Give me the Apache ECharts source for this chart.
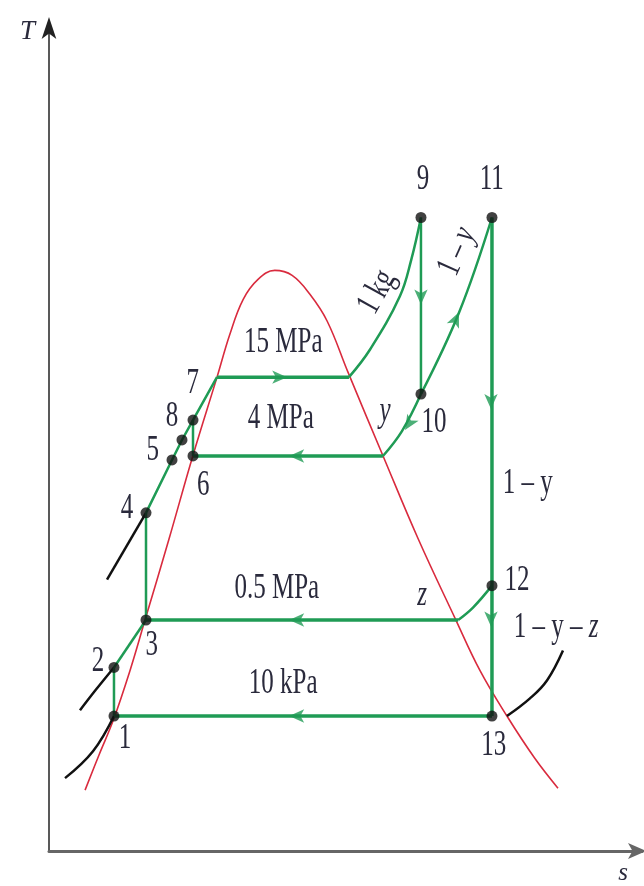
<!DOCTYPE html>
<html>
<head>
<meta charset="utf-8">
<script src="https://cdn.jsdelivr.net/npm/echarts@6/dist/echarts.min.js"></script>
<style>
  html, body { margin: 0; padding: 0; background: #fff; }
  #chart { width: 644px; height: 886px; }
</style>
</head>
<body>
<div id="chart"></div>
<script>
// T-s diagram of a reheat-regenerative Rankine cycle (s and T in arbitrary diagram units)

// Saturation dome
const dome = [
  [0.73, 73.5], [1.01, 115.7], [1.30, 157.8], [1.64, 218.1], [1.94, 278.3],
  [2.43, 377.1], [2.91, 477.1], [3.40, 572.3], [3.66, 624.1], [3.93, 666.3],
  [4.23, 690.4], [4.57, 701.2], [4.92, 695.2], [5.28, 672.3], [5.63, 639.8],
  [6.05, 578.3], [6.76, 477.1], [7.47, 377.1], [8.22, 280.7], [8.72, 218.1],
  [9.27, 162.7], [9.83, 112.0], [10.30, 75.9]
];

// Cycle processes (green)
const pumpI      = [[1.315, 163], [1.315, 221.7]];
const openHeater = [[1.315, 221.7], [1.963, 279]];
const pumpII     = [[1.963, 279], [1.963, 408.4]];
const feedLine   = [[1.963, 408.4], [2.489, 472.3], [2.691, 496.4], [2.914, 520.5], [3.399, 572.3]];
const pumpIII    = [[2.914, 477.1], [2.914, 520.5]];
const boiler     = [[3.399, 572.3], [6.07, 572.3]];
const superheat  = [[6.07, 572.3], [6.50, 606], [7.10, 670], [7.33, 714], [7.527, 765.1]];
const hpTurbine  = [[7.527, 765.1], [7.527, 551.8]];
const reheater   = [[7.527, 551.8], [8.30, 650.6], [8.964, 765.1]];
const bleedHigh  = [[7.527, 551.8], [7.143, 507.2], [6.758, 477.1]];
const drainHigh  = [[6.758, 477.1], [2.914, 477.1]];
const lpTurbine  = [[8.964, 765.1], [8.964, 320.5], [8.964, 163]];
const bleedLow   = [[8.964, 320.5], [8.58, 294], [8.28, 279]];
const drainLow   = [[8.28, 279], [1.963, 279]];
const condenser  = [[8.964, 163], [1.315, 163]];

// Compressed-liquid and superheated isobar stubs (black)
const stub15MPa  = [[1.963, 408.4], [1.174, 327.7]];
const stub05MPa  = [[1.315, 221.7], [0.951, 195], [0.627, 170]];
const stub10kPaL = [[1.315, 163], [0.890, 120.5], [0.324, 88]];
const stub10kPaR = [[9.267, 163], [9.733, 184.3], [10.077, 206], [10.401, 242.2]];

// State points
const states = [
  [1.315, 163], [1.315, 221.7], [1.963, 279], [1.963, 408.4], [2.489, 472.3],
  [2.914, 477.1], [2.914, 520.5], [2.691, 496.4], [7.527, 765.1], [7.527, 551.8],
  [8.964, 765.1], [8.964, 320.5], [8.964, 163]
];

// Flow direction arrows: [s, T, heading in degrees]
const flowArrows = [
  [4.82, 572.3, 0], [4.86, 477.1, 180], [4.86, 279, 180], [4.86, 163, 180],
  [7.527, 660, -90], [8.944, 533.7, -90], [8.944, 271, -90],
  [8.296, 650.6, 66], [7.204, 508.4, 238]
];

// Text: [s, T, text, angle]
const stateLabels = [
  [1.54, 136, '1', 0], [0.99, 229, '2', 0], [2.08, 248, '3', 0], [1.58, 413, '4', 0],
  [2.10, 483, '5', 0], [3.12, 441, '6', 0], [2.91, 564, '7', 0], [2.49, 524, '8', 0],
  [7.57, 811, '9', 0], [7.79, 517, '10', 0], [8.96, 811, '11', 0], [9.47, 326.5, '12', 0],
  [9.00, 126.5, '13', 0]
];
const processLabels = [
  [4.74, 614, '15 MPa', 0], [4.69, 522, '4 MPa', 0], [4.61, 317, '0.5 MPa', 0],
  [4.74, 202, '10 kPa', 0], [6.80, 531, '{i|y}', 0], [7.55, 308, '{i|z}', 0],
  [9.69, 443, '1 – y', 0], [10.26, 269, '1 – y – {i|z}', 0],
  [6.64, 675, '1 kg', 61], [8.26, 724, '1 – {i|y}', 66]
];

const GREEN = '#1f9b55';
const RED = '#d92b3e';
const INK = '#2a2a3c';
const SERIF = '"Liberation Serif", "DejaVu Serif", serif';

function line(data, color, width, z) {
  return {
    type: 'line', data: data, showSymbol: false, symbol: 'none', silent: true,
    lineStyle: { color: color, width: width }, z: z, animation: false
  };
}
function curve(data, color, width, z) {
  const s = line(data, color, width, z);
  s.smooth = 0.4;
  return s;
}

function textSeries(items, size) {
  return {
    type: 'custom', z: 20, silent: true, animation: false,
    data: items.map(d => [d[0], d[1]]),
    renderItem: function (params, api) {
      const d = items[params.dataIndex];
      const p = api.coord([d[0], d[1]]);
      return {
        type: 'text', x: p[0], y: p[1],
        rotation: d[3] * Math.PI / 180,
        scaleY: 1.4,
        style: {
          text: d[2], fill: INK, fontSize: size, fontFamily: SERIF,
          align: 'center', verticalAlign: 'middle',
          rich: { i: { fontStyle: 'italic', fontSize: size, fontFamily: SERIF, fill: INK } }
        }
      };
    }
  };
}

const chart = echarts.init(document.getElementById('chart'), null, { renderer: 'canvas' });
chart.setOption({
  backgroundColor: '#fff',
  animation: false,
  grid: { left: 49, right: 2, top: 23, bottom: 33 },
  xAxis: {
    type: 'value', min: 0, max: 12,
    name: 's', nameLocation: 'end', nameGap: -14,
    nameTextStyle: { fontFamily: SERIF, fontStyle: 'italic', fontSize: 25, color: INK,
      align: 'right', verticalAlign: 'top', padding: [10, 0, 0, 0] },
    axisLine: { show: true, lineStyle: { color: '#666', width: 3 },
      symbol: ['none', 'arrow'], symbolSize: [12, 18], symbolOffset: [0, 4] },
    axisTick: { show: false }, axisLabel: { show: false }, splitLine: { show: false }
  },
  yAxis: {
    type: 'value', min: 0, max: 1000,
    name: 'T', nameLocation: 'end', nameGap: -9,
    nameTextStyle: { fontFamily: SERIF, fontStyle: 'italic', fontSize: 27, color: INK,
      align: 'right', verticalAlign: 'middle', padding: [0, 14, 0, 0] },
    axisLine: { show: true, lineStyle: { color: '#222', width: 1.5 },
      symbol: ['none', 'arrow'], symbolSize: [11, 22], symbolOffset: [0, 6] },
    axisTick: { show: false }, axisLabel: { show: false }, splitLine: { show: false }
  },
  series: [
    curve(dome, RED, 1.6, 2),
    line(stub15MPa, '#111', 2.5, 3),
    curve(stub05MPa, '#111', 2.5, 3),
    curve(stub10kPaL, '#111', 2.5, 3),
    curve(stub10kPaR, '#111', 2.5, 3),
    line(pumpI, GREEN, 2.5, 4),
    line(openHeater, GREEN, 2.5, 4),
    line(pumpII, GREEN, 2.5, 4),
    line(feedLine, GREEN, 2.5, 4),
    line(pumpIII, GREEN, 2.5, 4),
    line(boiler, GREEN, 3.5, 4),
    curve(superheat, GREEN, 2.5, 4),
    line(hpTurbine, GREEN, 2.5, 4),
    curve(reheater, GREEN, 2.5, 4),
    curve(bleedHigh, GREEN, 2.5, 4),
    line(drainHigh, GREEN, 3.5, 4),
    line(lpTurbine, GREEN, 3.5, 4),
    curve(bleedLow, GREEN, 2.5, 4),
    line(drainLow, GREEN, 3.5, 4),
    line(condenser, GREEN, 3.5, 4),
    {
      type: 'scatter', z: 6, silent: true, animation: false,
      symbol: 'arrow', symbolSize: [10, 15],
      data: flowArrows.map(a => ({ value: [a[0], a[1]], symbolRotate: a[2] - 90 })),
      itemStyle: { color: GREEN }
    },
    {
      type: 'scatter', z: 8, silent: true, animation: false,
      symbol: 'circle', symbolSize: 11,
      data: states, itemStyle: { color: '#111' }
    },
    textSeries(stateLabels, 25),
    textSeries(processLabels, 25)
  ]
});
</script>
</body>
</html>
